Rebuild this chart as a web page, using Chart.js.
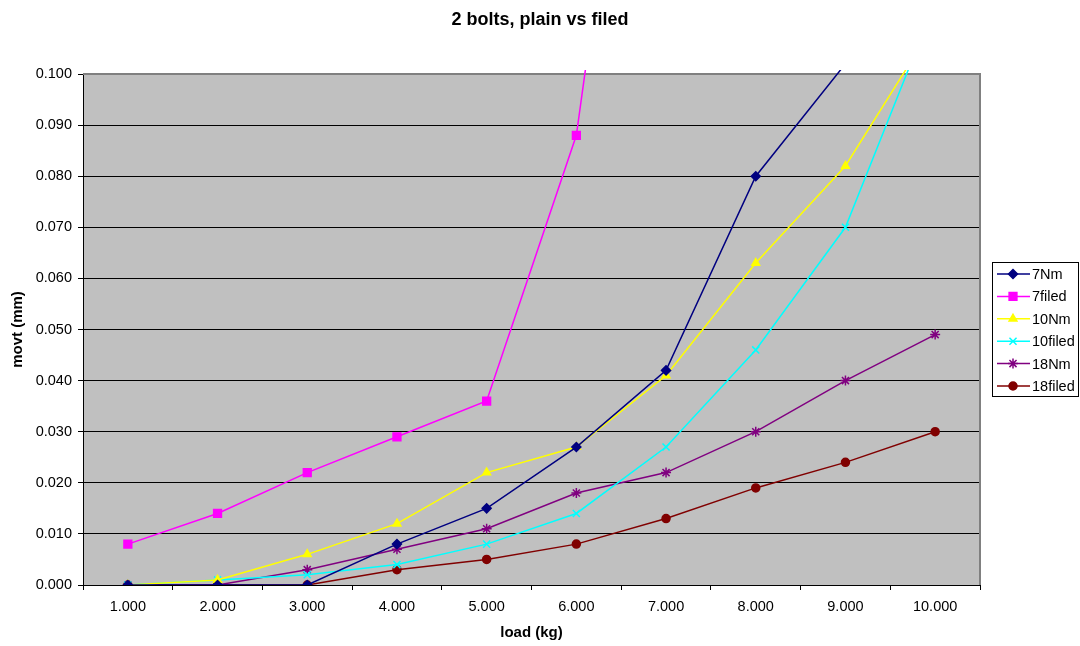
<!DOCTYPE html>
<html>
<head>
<meta charset="utf-8">
<script src="https://cdn.jsdelivr.net/npm/chart.js@4/dist/chart.umd.min.js"></script>
<style>
  body { margin: 0; background: #fff; }
  #wrap { width: 1080px; height: 646px; position: relative; }
</style>
</head>
<body>
<div id="wrap"><canvas id="boltChart"></canvas></div>
<script>
// load steps (kg)
const loads = ['1.000', '2.000', '3.000', '4.000', '5.000', '6.000', '7.000', '8.000', '9.000', '10.000'];

// movement (mm) per torque / finish
const nm7      = [0, 0, 0, 0.008, 0.015, 0.027, 0.042, 0.080, 0.102, 0.125];
const filed7   = [0.008, 0.014, 0.022, 0.029, 0.036, 0.088, 0.215, 0.300, 0.350, 0.400];
const nm10     = [0, 0.001, 0.006, 0.012, 0.022, 0.027, 0.041, 0.063, 0.082, 0.110];
const filed10  = [0, 0.001, 0.002, 0.004, 0.008, 0.014, 0.027, 0.046, 0.070, 0.114];
const nm18     = [0, 0, 0.003, 0.007, 0.011, 0.018, 0.022, 0.030, 0.040, 0.049];
const filed18  = [0, 0, 0, 0.003, 0.005, 0.008, 0.013, 0.019, 0.024, 0.030];

const FONT = '"Liberation Sans", Arial, sans-serif';

function series(label, data, color, style, radius) {
    return {
        label: label,
        data: data,
        borderColor: color,
        backgroundColor: color,
        borderWidth: 1.5,
        pointStyle: style,
        pointRadius: radius,
        pointHoverRadius: radius,
        pointBorderWidth: 1.5,
        tension: 0,
        clip: { left: 0, right: 0, top: 4, bottom: 0 }
    };
}

// grey plot area, drawn first
const plotBackground = {
    id: 'plotBackground',
    beforeDraw(chart) {
        const { ctx, chartArea: a } = chart;
        ctx.save();
        ctx.fillStyle = '#c0c0c0';
        ctx.fillRect(a.left, a.top, a.right - a.left, a.bottom - a.top);
        ctx.restore();
    },
    beforeDatasetsDraw(chart) {
        const { ctx, chartArea: a } = chart;
        ctx.save();
        ctx.strokeStyle = '#808080';
        ctx.lineWidth = 2;
        ctx.beginPath();
        ctx.moveTo(a.left, a.top);
        ctx.lineTo(a.right, a.top);
        ctx.lineTo(a.right, a.bottom);
        ctx.stroke();
        ctx.restore();
    }
};

// chart heading
const heading = {
    id: 'heading',
    afterDraw(chart) {
        const ctx = chart.ctx;
        ctx.save();
        ctx.font = 'bold 18px ' + FONT;
        ctx.fillStyle = '#000';
        ctx.textAlign = 'center';
        ctx.textBaseline = 'middle';
        ctx.fillText('2 bolts, plain vs filed', 540, 20);
        ctx.restore();
    }
};

// boxed legend with line + marker samples
const boxLegend = {
    id: 'boxLegend',
    afterDraw(chart) {
        const ctx = chart.ctx;
        const x = 992, y = 262, w = 86, h = 134;
        ctx.save();
        ctx.fillStyle = '#fff';
        ctx.fillRect(x, y, w, h);
        ctx.strokeStyle = '#000';
        ctx.lineWidth = 1;
        ctx.strokeRect(x + 0.5, y + 0.5, w, h);
        ctx.font = '14.5px ' + FONT;
        ctx.textBaseline = 'middle';
        chart.data.datasets.forEach((ds, i) => {
            const cy = y + 12 + i * 22.4;
            ctx.strokeStyle = ds.borderColor;
            ctx.lineWidth = 1.5;
            ctx.beginPath();
            ctx.moveTo(x + 5, cy);
            ctx.lineTo(x + 38, cy);
            ctx.stroke();
            ctx.fillStyle = ds.backgroundColor;
            Chart.helpers.drawPoint(ctx, {
                pointStyle: ds.pointStyle,
                radius: ds.pointRadius,
                borderWidth: 1.5,
                rotation: 0
            }, x + 21, cy);
            ctx.fillStyle = '#000';
            ctx.fillText(ds.label, x + 40, cy + 1);
        });
        ctx.restore();
    }
};

document.addEventListener('DOMContentLoaded', function() {
    const ctx = document.getElementById('boltChart');

    new Chart(ctx, {
        type: 'line',
        data: {
            labels: loads,
            datasets: [
                series('7Nm', nm7, '#000080', 'rectRot', 4.5),
                series('7filed', filed7, '#ff00ff', 'rect', 5.5),
                series('10Nm', nm10, '#ffff00', 'triangle', 4.5),
                series('10filed', filed10, '#00ffff', 'crossRot', 5),
                series('18Nm', nm18, '#800080', 'star', 5),
                series('18filed', filed18, '#800000', 'circle', 4)
            ]
        },
        options: {
            responsive: true,
            maintainAspectRatio: false,
            animation: false,
            layout: {
                padding: { top: 74, right: 100, bottom: 0, left: 0 }
            },
            plugins: {
                legend: { display: false },
                tooltip: { enabled: false }
            },
            scales: {
                x: {
                    offset: true,
                    afterFit(scale) { scale.height = 61; },
                    grid: {
                        offset: true,
                        drawOnChartArea: false,
                        drawTicks: true,
                        tickLength: 5,
                        color: '#000'
                    },
                    border: { color: '#000', width: 1 },
                    ticks: {
                        color: '#000',
                        padding: 8,
                        maxRotation: 0,
                        font: { family: FONT, size: 14.5 }
                    },
                    title: {
                        display: true,
                        text: 'load (kg)',
                        color: '#000',
                        padding: { top: 4, bottom: 4 },
                        font: { family: FONT, size: 15, weight: 'bold' }
                    }
                },
                y: {
                    min: 0,
                    max: 0.1,
                    afterFit(scale) { scale.width = 83; },
                    grid: {
                        color: '#000',
                        lineWidth: 1,
                        tickLength: 5,
                        drawTicks: true
                    },
                    border: { color: '#000', width: 1 },
                    ticks: {
                        stepSize: 0.01,
                        color: '#000',
                        padding: 6,
                        font: { family: FONT, size: 14.5 },
                        callback: v => v.toFixed(3)
                    },
                    title: {
                        display: true,
                        text: 'movt (mm)',
                        color: '#000',
                        padding: { top: 9, bottom: 0 },
                        font: { family: FONT, size: 15, weight: 'bold' }
                    }
                }
            }
        },
        plugins: [plotBackground, heading, boxLegend]
    });
});
</script>
</body>
</html>
